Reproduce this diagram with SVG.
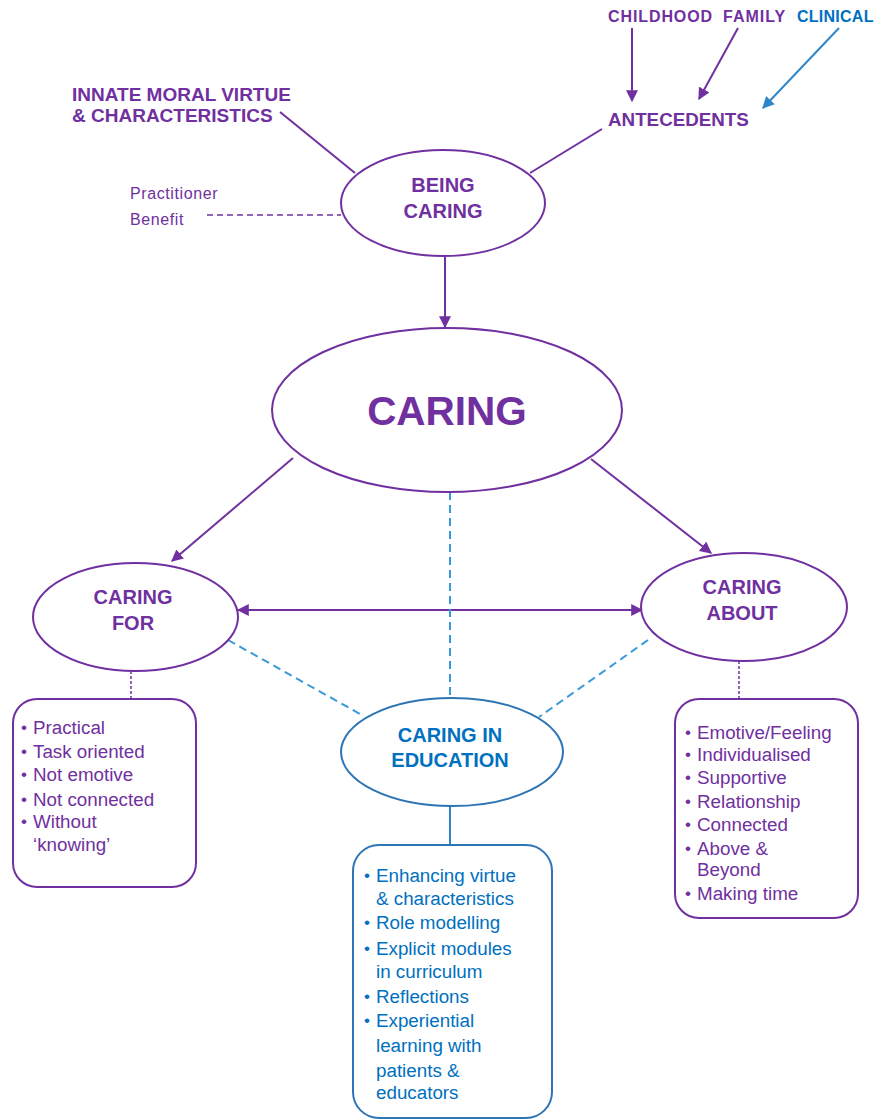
<svg xmlns="http://www.w3.org/2000/svg" width="877" height="1120" viewBox="0 0 877 1120">
  <defs>
    <style>
      .txt { font-family: "Liberation Sans", Arial, sans-serif; }
      .p { fill: #7030A0; }
      .b { fill: #0070C0; }
      .bold { font-weight: bold; }
      .node-p { fill: #ffffff; stroke: #7030A0; stroke-width: 2; }
      .node-b { fill: #ffffff; stroke: #2E75B6; stroke-width: 2; }
      .line-p { stroke: #7030A0; stroke-width: 2; fill: none; }
      .line-b { stroke: #2E86C8; stroke-width: 2; fill: none; }
      .dash-b { stroke: #3A9AD9; stroke-width: 2; stroke-dasharray: 8 5; fill: none; }
      .dash-p { stroke: #7030A0; stroke-width: 1.5; stroke-dasharray: 6 4; fill: none; }
      .dot-p { stroke: #7030A0; stroke-width: 1.5; stroke-dasharray: 3 2; fill: none; }
      .list { font-size: 18.8px; }
      .bul { font-size: 17px; }
      .head { font-size: 20px; font-weight: bold; text-anchor: middle; }
    </style>
    <marker id="arrPs" viewBox="0 0 10 10" refX="9" refY="5" markerWidth="12" markerHeight="12" orient="auto-start-reverse" markerUnits="userSpaceOnUse">
      <path d="M0,0 L10,5 L0,10 z" fill="#7030A0"/>
    </marker>
    <marker id="arrB" viewBox="0 0 10 10" refX="9" refY="5" markerWidth="12" markerHeight="12" orient="auto" markerUnits="userSpaceOnUse">
      <path d="M0,0 L10,5 L0,10 z" fill="#2E86C8"/>
    </marker>
  </defs>

  <rect width="877" height="1120" fill="#ffffff"/>

  <!-- connectors -->
  <g id="connectors">
    <line class="line-p" x1="632" y1="28" x2="632" y2="101" marker-end="url(#arrPs)"/>
    <line class="line-p" x1="738" y1="28" x2="699" y2="99" marker-end="url(#arrPs)"/>
    <line class="line-b" x1="839" y1="28" x2="763" y2="108" marker-end="url(#arrB)"/>
    <line class="line-p" x1="280" y1="112" x2="355" y2="173"/>
    <line class="line-p" x1="602" y1="129" x2="530" y2="173"/>
    <line class="dash-p" x1="207" y1="215" x2="341" y2="215"/>
    <line class="line-p" x1="445" y1="257" x2="445" y2="327" marker-end="url(#arrPs)"/>
    <line class="line-p" x1="293" y1="458" x2="172" y2="561" marker-end="url(#arrPs)"/>
    <line class="line-p" x1="591" y1="459" x2="711" y2="553" marker-end="url(#arrPs)"/>
    <line class="line-p" x1="238" y1="610" x2="642" y2="610" marker-start="url(#arrPs)" marker-end="url(#arrPs)"/>
    <line class="dash-b" x1="450" y1="492" x2="450" y2="698"/>
    <line class="dash-b" x1="228" y1="640" x2="360" y2="714"/>
    <line class="dash-b" x1="648" y1="640" x2="539" y2="717"/>
    <line class="dot-p" x1="131" y1="671" x2="131" y2="699"/>
    <line class="dot-p" x1="739" y1="661" x2="739" y2="699"/>
    <line class="line-b" x1="450" y1="806" x2="450" y2="845"/>
  </g>

  <!-- header labels -->
  <g id="antecedent-sources" class="txt bold" font-size="16">
    <text class="p" x="608" y="22" letter-spacing="0.9">CHILDHOOD</text>
    <text class="p" x="723" y="22" letter-spacing="1">FAMILY</text>
    <text class="b" x="797" y="22" letter-spacing="0.25">CLINICAL</text>
  </g>
  <g id="antecedents">
    <text class="txt bold p" x="608" y="126" font-size="18.8">ANTECEDENTS</text>
  </g>
  <g id="innate">
    <text class="txt bold p" x="72" y="101" font-size="19">INNATE MORAL VIRTUE</text>
    <text class="txt bold p" x="72" y="122" font-size="19">&amp; CHARACTERISTICS</text>
  </g>
  <g id="practitioner-benefit">
    <text class="txt p" x="130" y="199" font-size="16" letter-spacing="0.6">Practitioner</text>
    <text class="txt p" x="130" y="225" font-size="16" letter-spacing="0.6">Benefit</text>
  </g>

  <!-- nodes -->
  <g id="being-caring">
    <ellipse class="node-p" cx="443" cy="203" rx="102" ry="53"/>
    <text class="txt head p" x="443" y="192">BEING</text>
    <text class="txt head p" x="443" y="218">CARING</text>
  </g>

  <g id="caring">
    <ellipse class="node-p" cx="447" cy="410" rx="175" ry="82"/>
    <text class="txt bold p" x="447" y="425" font-size="40.5" text-anchor="middle">CARING</text>
  </g>

  <g id="caring-for">
    <ellipse class="node-p" cx="135.5" cy="617" rx="102.5" ry="54"/>
    <text class="txt head p" x="133" y="604">CARING</text>
    <text class="txt head p" x="133" y="630">FOR</text>
  </g>

  <g id="caring-about">
    <ellipse class="node-p" cx="744" cy="607" rx="103" ry="54"/>
    <text class="txt head p" x="742" y="594">CARING</text>
    <text class="txt head p" x="742" y="620">ABOUT</text>
  </g>

  <g id="caring-in-education">
    <ellipse class="node-b" cx="452" cy="752" rx="111" ry="54"/>
    <text class="txt head b" x="450" y="742">CARING IN</text>
    <text class="txt head b" x="450" y="767">EDUCATION</text>
  </g>

  <!-- attribute lists -->
  <g id="caring-for-list">
    <rect class="node-p" x="13" y="699" width="183" height="188" rx="24"/>
    <g class="txt bul p">
      <text x="21" y="733">•</text>
      <text x="21" y="757">•</text>
      <text x="21" y="780">•</text>
      <text x="21" y="805">•</text>
      <text x="21" y="827">•</text>
    </g>
    <g class="txt list p">
      <text x="33" y="734">Practical</text>
      <text x="33" y="758">Task oriented</text>
      <text x="33" y="781">Not emotive</text>
      <text x="33" y="806">Not connected</text>
      <text x="33" y="828">Without</text>
      <text x="33" y="851">‘knowing’</text>
    </g>
  </g>

  <g id="caring-about-list">
    <rect class="node-p" x="675" y="699" width="183" height="219" rx="24"/>
    <g class="txt bul p">
      <text x="685" y="738">•</text>
      <text x="685" y="760">•</text>
      <text x="685" y="783">•</text>
      <text x="685" y="807">•</text>
      <text x="685" y="830">•</text>
      <text x="685" y="854">•</text>
      <text x="685" y="899">•</text>
    </g>
    <g class="txt list p">
      <text x="697" y="739">Emotive/Feeling</text>
      <text x="697" y="761">Individualised</text>
      <text x="697" y="784">Supportive</text>
      <text x="697" y="808">Relationship</text>
      <text x="697" y="831">Connected</text>
      <text x="697" y="855">Above &amp;</text>
      <text x="697" y="876">Beyond</text>
      <text x="697" y="900">Making time</text>
    </g>
  </g>

  <g id="caring-in-education-list">
    <rect class="node-b" x="353" y="845" width="199" height="273" rx="26"/>
    <g class="txt bul b">
      <text x="364" y="881">•</text>
      <text x="364" y="928">•</text>
      <text x="364" y="954">•</text>
      <text x="364" y="1002">•</text>
      <text x="364" y="1026">•</text>
    </g>
    <g class="txt list b">
      <text x="376" y="882">Enhancing virtue</text>
      <text x="376" y="905">&amp; characteristics</text>
      <text x="376" y="929">Role modelling</text>
      <text x="376" y="955">Explicit modules</text>
      <text x="376" y="978">in curriculum</text>
      <text x="376" y="1003">Reflections</text>
      <text x="376" y="1027">Experiential</text>
      <text x="376" y="1052">learning with</text>
      <text x="376" y="1077">patients &amp;</text>
      <text x="376" y="1099">educators</text>
    </g>
  </g>
</svg>
